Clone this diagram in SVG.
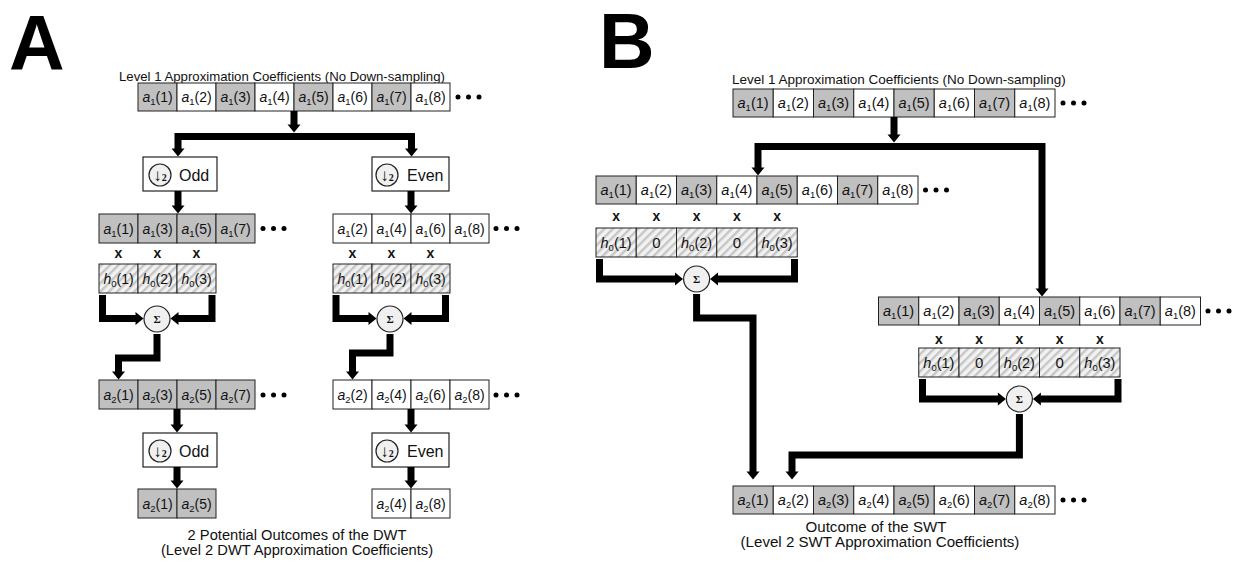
<svg xmlns="http://www.w3.org/2000/svg" width="1241" height="565" viewBox="0 0 1241 565">
<defs>
<pattern id="hatch" patternUnits="userSpaceOnUse" width="6" height="6" patternTransform="rotate(45)"><rect width="6" height="6" fill="#f2f2f2" stroke="none"/><rect width="2.4" height="6" fill="#c6c6c6" stroke="none"/></pattern>
<marker id="ah" markerUnits="userSpaceOnUse" markerWidth="10" markerHeight="14" refX="0.5" refY="6.5" orient="auto" overflow="visible"><path d="M0,0 L8,6.5 L0,13 z" fill="#000"/></marker>
<g id="dots"><circle cx="0" cy="0" r="2.5"/><circle cx="10.5" cy="0" r="2.5"/><circle cx="21" cy="0" r="2.5"/></g>
</defs>
<style>
.g,.w,.h{stroke:#222;stroke-width:1}
.g{fill:#c0c0c0}
.w{fill:#fff}
.h{fill:url(#hatch)}
text{font-family:"Liberation Sans",Arial,sans-serif;fill:#111}
.t{font-size:14px;text-anchor:middle}
.tb{font-size:14.5px;text-anchor:middle}
.i{font-style:italic}
.s{font-size:9.5px}
.x{font-weight:bold;font-size:14px;text-anchor:middle}
.big{font-weight:bold;font-size:77px;fill:#000}
.ttl{font-size:13.2px}
.cap{font-size:14.7px;text-anchor:middle}
.capb{font-size:15.1px;text-anchor:middle}
.ar{fill:none;stroke:#000;stroke-width:7;stroke-linejoin:miter;marker-end:url(#ah)}
.bx{fill:#fff;stroke:#222;stroke-width:1.2}
.dc{fill:#f0f0f0;stroke:#222;stroke-width:1.2}
.dt{font-family:"Liberation Serif",serif;font-size:17px;font-weight:bold;text-anchor:middle}
.lb{font-size:16px}
.sg{font-family:"Liberation Serif",serif;font-weight:bold;font-size:11px;text-anchor:middle}
</style>

<text class="big" x="9" y="70">A</text>
<text class="big" x="599" y="68">B</text>

<!-- Panel A -->
<g id="A_title"><text class="ttl" x="119" y="81">Level 1 Approximation Coefficients (No Down-sampling)</text></g>

<g id="A_row0">
<rect class="g" x="138" y="83" width="39" height="28"/><rect class="w" x="177" y="83" width="39" height="28"/><rect class="g" x="216" y="83" width="39" height="28"/><rect class="w" x="255" y="83" width="39" height="28"/><rect class="g" x="294" y="83" width="39" height="28"/><rect class="w" x="333" y="83" width="39" height="28"/><rect class="g" x="372" y="83" width="39" height="28"/><rect class="w" x="411" y="83" width="39" height="28"/>
<text class="t" x="157.5" y="102"><tspan class="i">a</tspan><tspan class="s" dy="3">1</tspan><tspan dy="-3">(1)</tspan></text>
<text class="t" x="196.5" y="102"><tspan class="i">a</tspan><tspan class="s" dy="3">1</tspan><tspan dy="-3">(2)</tspan></text>
<text class="t" x="235.5" y="102"><tspan class="i">a</tspan><tspan class="s" dy="3">1</tspan><tspan dy="-3">(3)</tspan></text>
<text class="t" x="274.5" y="102"><tspan class="i">a</tspan><tspan class="s" dy="3">1</tspan><tspan dy="-3">(4)</tspan></text>
<text class="t" x="313.5" y="102"><tspan class="i">a</tspan><tspan class="s" dy="3">1</tspan><tspan dy="-3">(5)</tspan></text>
<text class="t" x="352.5" y="102"><tspan class="i">a</tspan><tspan class="s" dy="3">1</tspan><tspan dy="-3">(6)</tspan></text>
<text class="t" x="391.5" y="102"><tspan class="i">a</tspan><tspan class="s" dy="3">1</tspan><tspan dy="-3">(7)</tspan></text>
<text class="t" x="430.5" y="102"><tspan class="i">a</tspan><tspan class="s" dy="3">1</tspan><tspan dy="-3">(8)</tspan></text>
<use href="#dots" x="458" y="97"/>
</g>

<g id="A_odd1"><rect class="bx" x="143" y="157" width="74" height="34"/><circle class="dc" cx="160" cy="175" r="11"/><text class="dt" x="160" y="180.5">↓<tspan font-size="10">2</tspan></text><text class="lb" x="179" y="180.5">Odd</text></g>
<g id="A_even1"><rect class="bx" x="372" y="157" width="77" height="34"/><circle class="dc" cx="387" cy="175" r="11"/><text class="dt" x="387" y="180.5">↓<tspan font-size="10">2</tspan></text><text class="lb" x="407" y="180.5">Even</text></g>

<g id="A_row1L">
<rect class="g" x="99" y="214" width="39" height="29"/><rect class="g" x="138" y="214" width="39" height="29"/><rect class="g" x="177" y="214" width="39" height="29"/><rect class="g" x="216" y="214" width="39" height="29"/>
<text class="t" x="118.5" y="233.5"><tspan class="i">a</tspan><tspan class="s" dy="3">1</tspan><tspan dy="-3">(1)</tspan></text>
<text class="t" x="157.5" y="233.5"><tspan class="i">a</tspan><tspan class="s" dy="3">1</tspan><tspan dy="-3">(3)</tspan></text>
<text class="t" x="196.5" y="233.5"><tspan class="i">a</tspan><tspan class="s" dy="3">1</tspan><tspan dy="-3">(5)</tspan></text>
<text class="t" x="235.5" y="233.5"><tspan class="i">a</tspan><tspan class="s" dy="3">1</tspan><tspan dy="-3">(7)</tspan></text>
<use href="#dots" x="263" y="228.5"/>
</g>
<g id="A_row1R">
<rect class="w" x="333" y="214" width="39" height="29"/><rect class="w" x="372" y="214" width="39" height="29"/><rect class="w" x="411" y="214" width="39" height="29"/><rect class="w" x="450" y="214" width="39" height="29"/>
<text class="t" x="352.5" y="233.5"><tspan class="i">a</tspan><tspan class="s" dy="3">1</tspan><tspan dy="-3">(2)</tspan></text>
<text class="t" x="391.5" y="233.5"><tspan class="i">a</tspan><tspan class="s" dy="3">1</tspan><tspan dy="-3">(4)</tspan></text>
<text class="t" x="430.5" y="233.5"><tspan class="i">a</tspan><tspan class="s" dy="3">1</tspan><tspan dy="-3">(6)</tspan></text>
<text class="t" x="469.5" y="233.5"><tspan class="i">a</tspan><tspan class="s" dy="3">1</tspan><tspan dy="-3">(8)</tspan></text>
<use href="#dots" x="496" y="228.5"/>
</g>

<g id="A_xL"><text class="x" x="118.5" y="258">x</text><text class="x" x="157.5" y="258">x</text><text class="x" x="196.5" y="258">x</text></g>
<g id="A_xR"><text class="x" x="352.5" y="258">x</text><text class="x" x="391.5" y="258">x</text><text class="x" x="430.5" y="258">x</text></g>

<g id="A_hL">
<rect class="h" x="99" y="264" width="39" height="29"/><rect class="h" x="138" y="264" width="39" height="29"/><rect class="h" x="177" y="264" width="39" height="29"/>
<text class="t" x="118.5" y="283.5"><tspan class="i">h</tspan><tspan class="s" dy="3">0</tspan><tspan dy="-3">(1)</tspan></text>
<text class="t" x="157.5" y="283.5"><tspan class="i">h</tspan><tspan class="s" dy="3">0</tspan><tspan dy="-3">(2)</tspan></text>
<text class="t" x="196.5" y="283.5"><tspan class="i">h</tspan><tspan class="s" dy="3">0</tspan><tspan dy="-3">(3)</tspan></text>
</g>
<g id="A_hR">
<rect class="h" x="333" y="264" width="39" height="29"/><rect class="h" x="372" y="264" width="39" height="29"/><rect class="h" x="411" y="264" width="39" height="29"/>
<text class="t" x="352.5" y="283.5"><tspan class="i">h</tspan><tspan class="s" dy="3">0</tspan><tspan dy="-3">(1)</tspan></text>
<text class="t" x="391.5" y="283.5"><tspan class="i">h</tspan><tspan class="s" dy="3">0</tspan><tspan dy="-3">(2)</tspan></text>
<text class="t" x="430.5" y="283.5"><tspan class="i">h</tspan><tspan class="s" dy="3">0</tspan><tspan dy="-3">(3)</tspan></text>
</g>

<g id="A_sumL"><circle class="dc" cx="157" cy="319" r="13"/><text class="sg" x="157" y="323">Σ</text></g>
<g id="A_sumR"><circle class="dc" cx="390" cy="319" r="13"/><text class="sg" x="390" y="323">Σ</text></g>

<g id="A_row2L">
<rect class="g" x="99" y="380" width="39" height="29"/><rect class="g" x="138" y="380" width="39" height="29"/><rect class="g" x="177" y="380" width="39" height="29"/><rect class="g" x="216" y="380" width="39" height="29"/>
<text class="t" x="118.5" y="399.5"><tspan class="i">a</tspan><tspan class="s" dy="3">2</tspan><tspan dy="-3">(1)</tspan></text>
<text class="t" x="157.5" y="399.5"><tspan class="i">a</tspan><tspan class="s" dy="3">2</tspan><tspan dy="-3">(3)</tspan></text>
<text class="t" x="196.5" y="399.5"><tspan class="i">a</tspan><tspan class="s" dy="3">2</tspan><tspan dy="-3">(5)</tspan></text>
<text class="t" x="235.5" y="399.5"><tspan class="i">a</tspan><tspan class="s" dy="3">2</tspan><tspan dy="-3">(7)</tspan></text>
<use href="#dots" x="263" y="395"/>
</g>
<g id="A_row2R">
<rect class="w" x="333" y="380" width="39" height="29"/><rect class="w" x="372" y="380" width="39" height="29"/><rect class="w" x="411" y="380" width="39" height="29"/><rect class="w" x="450" y="380" width="39" height="29"/>
<text class="t" x="352.5" y="399.5"><tspan class="i">a</tspan><tspan class="s" dy="3">2</tspan><tspan dy="-3">(2)</tspan></text>
<text class="t" x="391.5" y="399.5"><tspan class="i">a</tspan><tspan class="s" dy="3">2</tspan><tspan dy="-3">(4)</tspan></text>
<text class="t" x="430.5" y="399.5"><tspan class="i">a</tspan><tspan class="s" dy="3">2</tspan><tspan dy="-3">(6)</tspan></text>
<text class="t" x="469.5" y="399.5"><tspan class="i">a</tspan><tspan class="s" dy="3">2</tspan><tspan dy="-3">(8)</tspan></text>
<use href="#dots" x="496" y="395"/>
</g>

<g id="A_odd2"><rect class="bx" x="143" y="433" width="74" height="34"/><circle class="dc" cx="160" cy="451" r="11"/><text class="dt" x="160" y="456.5">↓<tspan font-size="10">2</tspan></text><text class="lb" x="179" y="456.5">Odd</text></g>
<g id="A_even2"><rect class="bx" x="372" y="433" width="77" height="34"/><circle class="dc" cx="387" cy="451" r="11"/><text class="dt" x="387" y="456.5">↓<tspan font-size="10">2</tspan></text><text class="lb" x="407" y="456.5">Even</text></g>

<g id="A_row3L">
<rect class="g" x="138" y="489" width="39" height="29"/><rect class="g" x="177" y="489" width="39" height="29"/>
<text class="t" x="157.5" y="508.5"><tspan class="i">a</tspan><tspan class="s" dy="3">2</tspan><tspan dy="-3">(1)</tspan></text>
<text class="t" x="196.5" y="508.5"><tspan class="i">a</tspan><tspan class="s" dy="3">2</tspan><tspan dy="-3">(5)</tspan></text>
</g>
<g id="A_row3R">
<rect class="w" x="372" y="489" width="39" height="29"/><rect class="w" x="411" y="489" width="39" height="29"/>
<text class="t" x="391.5" y="508.5"><tspan class="i">a</tspan><tspan class="s" dy="3">2</tspan><tspan dy="-3">(4)</tspan></text>
<text class="t" x="430.5" y="508.5"><tspan class="i">a</tspan><tspan class="s" dy="3">2</tspan><tspan dy="-3">(8)</tspan></text>
</g>

<g id="A_caption"><text class="cap" x="297" y="540">2 Potential Outcomes of the DWT</text><text class="cap" x="297" y="555">(Level 2 DWT Approximation Coefficients)</text></g>

<!-- Panel B -->
<g id="B_title"><text class="ttl" x="732" y="84" style="font-size:13.5px">Level 1 Approximation Coefficients (No Down-sampling)</text></g>

<g id="B_row0">
<rect class="g" x="733" y="89" width="40.25" height="28"/><rect class="w" x="773.25" y="89" width="40.25" height="28"/><rect class="g" x="813.5" y="89" width="40.25" height="28"/><rect class="w" x="853.75" y="89" width="40.25" height="28"/><rect class="g" x="894" y="89" width="40.25" height="28"/><rect class="w" x="934.25" y="89" width="40.25" height="28"/><rect class="g" x="974.5" y="89" width="40.25" height="28"/><rect class="w" x="1014.75" y="89" width="40.25" height="28"/>
<text class="tb" x="753.1" y="108"><tspan class="i">a</tspan><tspan class="s" dy="3">1</tspan><tspan dy="-3">(1)</tspan></text>
<text class="tb" x="793.4" y="108"><tspan class="i">a</tspan><tspan class="s" dy="3">1</tspan><tspan dy="-3">(2)</tspan></text>
<text class="tb" x="833.6" y="108"><tspan class="i">a</tspan><tspan class="s" dy="3">1</tspan><tspan dy="-3">(3)</tspan></text>
<text class="tb" x="873.9" y="108"><tspan class="i">a</tspan><tspan class="s" dy="3">1</tspan><tspan dy="-3">(4)</tspan></text>
<text class="tb" x="914.1" y="108"><tspan class="i">a</tspan><tspan class="s" dy="3">1</tspan><tspan dy="-3">(5)</tspan></text>
<text class="tb" x="954.4" y="108"><tspan class="i">a</tspan><tspan class="s" dy="3">1</tspan><tspan dy="-3">(6)</tspan></text>
<text class="tb" x="994.6" y="108"><tspan class="i">a</tspan><tspan class="s" dy="3">1</tspan><tspan dy="-3">(7)</tspan></text>
<text class="tb" x="1034.9" y="108"><tspan class="i">a</tspan><tspan class="s" dy="3">1</tspan><tspan dy="-3">(8)</tspan></text>
<use href="#dots" x="1063" y="103"/>
</g>

<g id="B_row1">
<rect class="g" x="596" y="176" width="40.25" height="28"/><rect class="w" x="636.25" y="176" width="40.25" height="28"/><rect class="g" x="676.5" y="176" width="40.25" height="28"/><rect class="w" x="716.75" y="176" width="40.25" height="28"/><rect class="g" x="757" y="176" width="40.25" height="28"/><rect class="w" x="797.25" y="176" width="40.25" height="28"/><rect class="g" x="837.5" y="176" width="40.25" height="28"/><rect class="w" x="877.75" y="176" width="40.25" height="28"/>
<text class="tb" x="616.1" y="195"><tspan class="i">a</tspan><tspan class="s" dy="3">1</tspan><tspan dy="-3">(1)</tspan></text>
<text class="tb" x="656.4" y="195"><tspan class="i">a</tspan><tspan class="s" dy="3">1</tspan><tspan dy="-3">(2)</tspan></text>
<text class="tb" x="696.6" y="195"><tspan class="i">a</tspan><tspan class="s" dy="3">1</tspan><tspan dy="-3">(3)</tspan></text>
<text class="tb" x="736.9" y="195"><tspan class="i">a</tspan><tspan class="s" dy="3">1</tspan><tspan dy="-3">(4)</tspan></text>
<text class="tb" x="777.1" y="195"><tspan class="i">a</tspan><tspan class="s" dy="3">1</tspan><tspan dy="-3">(5)</tspan></text>
<text class="tb" x="817.4" y="195"><tspan class="i">a</tspan><tspan class="s" dy="3">1</tspan><tspan dy="-3">(6)</tspan></text>
<text class="tb" x="857.6" y="195"><tspan class="i">a</tspan><tspan class="s" dy="3">1</tspan><tspan dy="-3">(7)</tspan></text>
<text class="tb" x="897.9" y="195"><tspan class="i">a</tspan><tspan class="s" dy="3">1</tspan><tspan dy="-3">(8)</tspan></text>
<use href="#dots" x="925.5" y="190"/>
</g>
<g id="B_x1"><text class="x" x="616.1" y="221">x</text><text class="x" x="656.4" y="221">x</text><text class="x" x="696.6" y="221">x</text><text class="x" x="736.9" y="221">x</text><text class="x" x="777.1" y="221">x</text></g>
<g id="B_h1">
<rect class="h" x="596" y="228" width="40.25" height="29"/><rect class="h" x="636.25" y="228" width="40.25" height="29"/><rect class="h" x="676.5" y="228" width="40.25" height="29"/><rect class="h" x="716.75" y="228" width="40.25" height="29"/><rect class="h" x="757" y="228" width="40.25" height="29"/>
<text class="tb" x="616.1" y="247.5"><tspan class="i">h</tspan><tspan class="s" dy="3">0</tspan><tspan dy="-3">(1)</tspan></text>
<text class="tb" x="656.4" y="248" style="font-size:15px">0</text>
<text class="tb" x="696.6" y="247.5"><tspan class="i">h</tspan><tspan class="s" dy="3">0</tspan><tspan dy="-3">(2)</tspan></text>
<text class="tb" x="736.9" y="248" style="font-size:15px">0</text>
<text class="tb" x="777.1" y="247.5"><tspan class="i">h</tspan><tspan class="s" dy="3">0</tspan><tspan dy="-3">(3)</tspan></text>
</g>
<g id="B_sum1"><circle class="dc" cx="696.6" cy="279" r="13"/><text class="sg" x="696.6" y="283">Σ</text></g>

<g id="B_row2">
<rect class="g" x="878.5" y="297" width="40.25" height="28"/><rect class="w" x="918.75" y="297" width="40.25" height="28"/><rect class="g" x="959" y="297" width="40.25" height="28"/><rect class="w" x="999.25" y="297" width="40.25" height="28"/><rect class="g" x="1039.5" y="297" width="40.25" height="28"/><rect class="w" x="1079.75" y="297" width="40.25" height="28"/><rect class="g" x="1120" y="297" width="40.25" height="28"/><rect class="w" x="1160.25" y="297" width="40.25" height="28"/>
<text class="tb" x="898.6" y="316"><tspan class="i">a</tspan><tspan class="s" dy="3">1</tspan><tspan dy="-3">(1)</tspan></text>
<text class="tb" x="938.9" y="316"><tspan class="i">a</tspan><tspan class="s" dy="3">1</tspan><tspan dy="-3">(2)</tspan></text>
<text class="tb" x="979.1" y="316"><tspan class="i">a</tspan><tspan class="s" dy="3">1</tspan><tspan dy="-3">(3)</tspan></text>
<text class="tb" x="1019.4" y="316"><tspan class="i">a</tspan><tspan class="s" dy="3">1</tspan><tspan dy="-3">(4)</tspan></text>
<text class="tb" x="1059.6" y="316"><tspan class="i">a</tspan><tspan class="s" dy="3">1</tspan><tspan dy="-3">(5)</tspan></text>
<text class="tb" x="1099.9" y="316"><tspan class="i">a</tspan><tspan class="s" dy="3">1</tspan><tspan dy="-3">(6)</tspan></text>
<text class="tb" x="1140.1" y="316"><tspan class="i">a</tspan><tspan class="s" dy="3">1</tspan><tspan dy="-3">(7)</tspan></text>
<text class="tb" x="1180.4" y="316"><tspan class="i">a</tspan><tspan class="s" dy="3">1</tspan><tspan dy="-3">(8)</tspan></text>
<use href="#dots" x="1208" y="311"/>
</g>
<g id="B_x2"><text class="x" x="938.9" y="344">x</text><text class="x" x="979.1" y="344">x</text><text class="x" x="1019.4" y="344">x</text><text class="x" x="1059.6" y="344">x</text><text class="x" x="1099.9" y="344">x</text></g>
<g id="B_h2">
<rect class="h" x="918.75" y="348" width="40.25" height="29"/><rect class="h" x="959" y="348" width="40.25" height="29"/><rect class="h" x="999.25" y="348" width="40.25" height="29"/><rect class="h" x="1039.5" y="348" width="40.25" height="29"/><rect class="h" x="1079.75" y="348" width="40.25" height="29"/>
<text class="tb" x="938.9" y="367.5"><tspan class="i">h</tspan><tspan class="s" dy="3">0</tspan><tspan dy="-3">(1)</tspan></text>
<text class="tb" x="979.1" y="368" style="font-size:15px">0</text>
<text class="tb" x="1019.4" y="367.5"><tspan class="i">h</tspan><tspan class="s" dy="3">0</tspan><tspan dy="-3">(2)</tspan></text>
<text class="tb" x="1059.6" y="368" style="font-size:15px">0</text>
<text class="tb" x="1099.9" y="367.5"><tspan class="i">h</tspan><tspan class="s" dy="3">0</tspan><tspan dy="-3">(3)</tspan></text>
</g>
<g id="B_sum2"><circle class="dc" cx="1019.4" cy="399" r="13"/><text class="sg" x="1019.4" y="403">Σ</text></g>

<g id="B_row3">
<rect class="g" x="733" y="486" width="40.25" height="28"/><rect class="w" x="773.25" y="486" width="40.25" height="28"/><rect class="g" x="813.5" y="486" width="40.25" height="28"/><rect class="w" x="853.75" y="486" width="40.25" height="28"/><rect class="g" x="894" y="486" width="40.25" height="28"/><rect class="w" x="934.25" y="486" width="40.25" height="28"/><rect class="g" x="974.5" y="486" width="40.25" height="28"/><rect class="w" x="1014.75" y="486" width="40.25" height="28"/>
<text class="tb" x="753.1" y="505"><tspan class="i">a</tspan><tspan class="s" dy="3">2</tspan><tspan dy="-3">(1)</tspan></text>
<text class="tb" x="793.4" y="505"><tspan class="i">a</tspan><tspan class="s" dy="3">2</tspan><tspan dy="-3">(2)</tspan></text>
<text class="tb" x="833.6" y="505"><tspan class="i">a</tspan><tspan class="s" dy="3">2</tspan><tspan dy="-3">(3)</tspan></text>
<text class="tb" x="873.9" y="505"><tspan class="i">a</tspan><tspan class="s" dy="3">2</tspan><tspan dy="-3">(4)</tspan></text>
<text class="tb" x="914.1" y="505"><tspan class="i">a</tspan><tspan class="s" dy="3">2</tspan><tspan dy="-3">(5)</tspan></text>
<text class="tb" x="954.4" y="505"><tspan class="i">a</tspan><tspan class="s" dy="3">2</tspan><tspan dy="-3">(6)</tspan></text>
<text class="tb" x="994.6" y="505"><tspan class="i">a</tspan><tspan class="s" dy="3">2</tspan><tspan dy="-3">(7)</tspan></text>
<text class="tb" x="1034.9" y="505"><tspan class="i">a</tspan><tspan class="s" dy="3">2</tspan><tspan dy="-3">(8)</tspan></text>
<use href="#dots" x="1063" y="500"/>
</g>

<g id="B_caption"><text class="capb" x="876" y="531.5">Outcome of the SWT</text><text class="capb" x="880" y="546.5">(Level 2 SWT Approximation Coefficients)</text></g>

<g id="connectors">
<path class="ar" d="M294 111 V125"/>
<path class="ar" d="M294 136.5 H178 V149"/>
<path class="ar" d="M294 136.5 H411.5 V149"/>
<path class="ar" d="M178 191 V206"/>
<path class="ar" d="M411 191 V206"/>
<path class="ar" d="M102.5 295 V318.5 H136"/>
<path class="ar" d="M212 295 V318.5 H178"/>
<path class="ar" d="M336 295 V318.5 H369"/>
<path class="ar" d="M445.5 295 V318.5 H411"/>
<path class="ar" d="M157 334 V358 H118.5 V372"/>
<path class="ar" d="M390 334 V353 H352.5 V372"/>
<path class="ar" d="M177 409 V425"/>
<path class="ar" d="M411 409 V425"/>
<path class="ar" d="M177 467 V481"/>
<path class="ar" d="M411 467 V481"/>
<path class="ar" d="M894 117 V135"/>
<path class="ar" d="M894 146.5 H758 V168"/>
<path class="ar" d="M894 146.5 H1042 V289"/>
<path class="ar" d="M599.5 259 V279 H675.5"/>
<path class="ar" d="M794.5 259 V279 H717.5"/>
<path class="ar" d="M696.6 294 V318 H753 V472"/>
<path class="ar" d="M922.5 379 V399 H998.4"/>
<path class="ar" d="M1118 379 V399 H1040.4"/>
<path class="ar" d="M1019.4 414 V455 H792 V472"/>
</g>
</svg>
